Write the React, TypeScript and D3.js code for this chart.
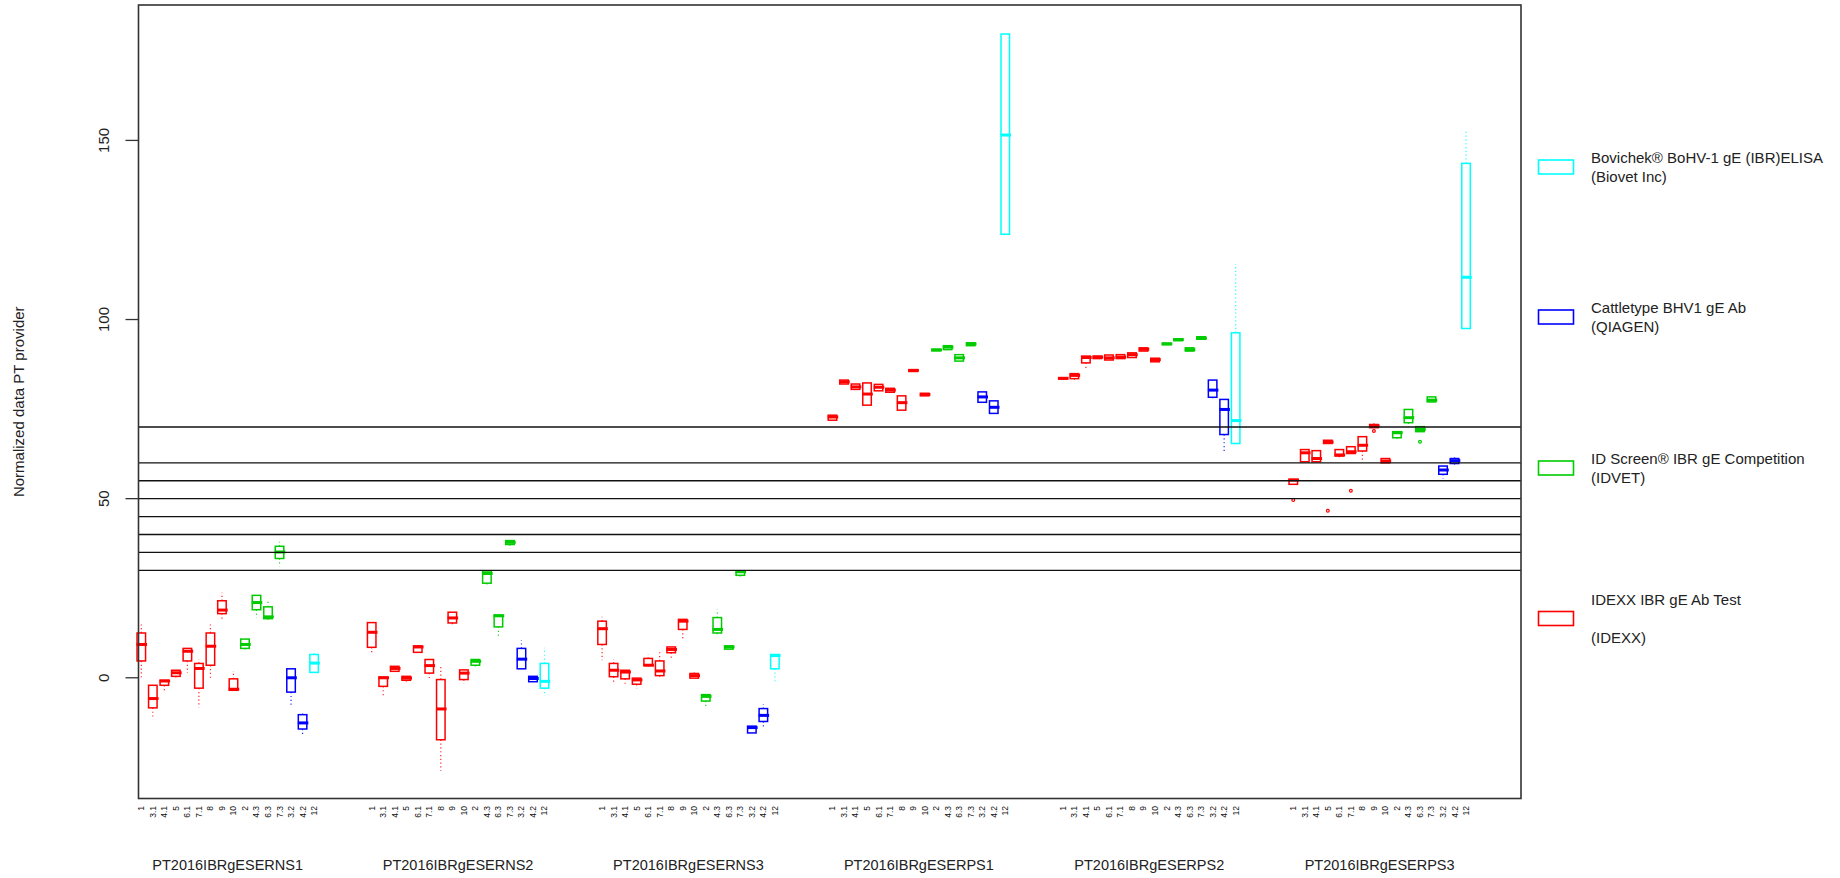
import React from "react";
import * as d3 from "d3";

// ---- data ----
const samples = [
  "PT2016IBRgESERNS1",
  "PT2016IBRgESERNS2",
  "PT2016IBRgESERNS3",
  "PT2016IBRgESERPS1",
  "PT2016IBRgESERPS2",
  "PT2016IBRgESERPS3",
];
const labs = ["1", "3.1", "4.1", "5", "6.1", "7.1", "8", "9", "10", "2", "4.3", "6.3", "7.3", "3.2", "4.2", "12"];
// kit index per lab: 0 Bovichek, 1 Cattletype, 2 ID Screen, 3 IDEXX
const labKit = [3, 3, 3, 3, 3, 3, 3, 3, 3, 2, 2, 2, 2, 1, 1, 0];
const kitColors = ["#00FFFF", "#0000FF", "#00CC00", "#FF0000"];
const legendLabels = [
  ["Bovichek® BoHV-1 gE (IBR)ELISA", "(Biovet Inc)"],
  ["Cattletype BHV1 gE Ab", "(QIAGEN)"],
  ["ID Screen® IBR gE Competition", "(IDVET)"],
  ["IDEXX IBR gE Ab Test", "", "(IDEXX)"],
];
const yTicks = [0, 50, 100, 150];
const refLines = [30, 35, 40, 45, 50, 55, 60, 70];

// [lower whisker, Q1, median, Q3, upper whisker] per lab
const statsNS1 = [
  [-0.5, 4.7, 9.3, 12.5, 14.9], [-10.8, -8.4, -5.8, -2.1, -2.1], [-3.5, -2.1, -0.9, -0.7, -0.7],
  [-0.7, 0.4, 1.4, 2.1, 2.1], [1.4, 4.7, 7.4, 8.2, 8.2], [-8.3, -2.9, 2.6, 4.0, 5.1],
  [-0.2, 3.5, 8.8, 12.5, 14.9], [16.3, 17.9, 18.9, 21.5, 23.7], [-3.5, -3.5, -3.2, -0.3, 1.9],
  [7.1, 8.2, 9.3, 10.8, 10.8], [16.8, 19.0, 21.0, 23.0, 23.0], [15.8, 16.5, 17.0, 19.8, 21.9],
  [31.1, 33.3, 35.1, 36.7, 38.0], [-8.2, -4.0, 0.0, 2.5, 2.5], [-16.1, -14.3, -12.6, -10.3, -9.3],
  [1.5, 1.5, 4.1, 6.5, 7.6],
];
const statsNS2 = [
  [6.8, 8.5, 12.7, 15.4, 15.4], [-4.9, -2.4, 0.0, 0.2, 0.2], [1.8, 1.8, 2.6, 3.2, 3.2],
  [-1.5, -0.7, -0.1, 0.4, 0.4], [7.1, 7.1, 8.6, 8.9, 8.9], [-0.5, 1.3, 3.4, 5.1, 5.1],
  [-26.0, -17.3, -8.7, -0.5, 3.8], [14.5, 15.3, 16.7, 18.3, 18.3], [-1.6, -0.5, 1.3, 2.2, 2.2],
  [3.0, 3.5, 4.6, 5.1, 5.1], [25.4, 26.4, 29.1, 29.8, 29.8], [11.1, 14.2, 17.3, 17.5, 17.5],
  [36.1, 37.2, 37.8, 38.3, 38.3], [2.5, 2.5, 5.2, 8.2, 10.5], [-1.1, -1.1, -0.2, 0.4, 0.4],
  [-5.1, -2.9, -1.0, 4.0, 8.4],
];
const statsNS3 = [
  [4.9, 9.3, 13.7, 15.8, 17.0], [-1.1, 0.3, 2.1, 4.0, 5.1], [-2.1, -0.3, 1.6, 2.1, 2.1],
  [-2.9, -1.8, -0.6, -0.1, -0.1], [2.8, 3.5, 3.5, 5.4, 6.5], [-0.5, 0.6, 1.9, 4.7, 7.3],
  [5.6, 7.0, 7.9, 8.6, 8.6], [11.0, 13.5, 15.8, 16.3, 16.3], [-0.1, -0.1, 0.6, 1.2, 1.5],
  [-8.0, -6.5, -5.2, -4.7, -4.7], [11.8, 12.5, 13.5, 16.8, 19.0], [8.0, 8.0, 8.6, 8.9, 8.9],
  [27.6, 28.6, 29.6, 29.8, 29.8], [-15.4, -15.4, -13.9, -13.5, -13.5], [-13.9, -12.2, -10.5, -8.6, -7.4],
  [-1.0, 2.5, 6.2, 6.5, 6.5],
];
const statsPS1 = [
  [71.9, 71.9, 72.8, 73.3, 73.3], [82.0, 82.0, 82.6, 83.1, 83.1], [80.5, 80.5, 81.2, 82.0, 82.0],
  [76.1, 76.1, 79.2, 82.3, 82.3], [80.1, 80.1, 81.1, 81.9, 81.9], [79.7, 79.7, 80.3, 80.8, 80.8],
  [74.7, 74.7, 76.8, 78.7, 78.7], [85.5, 85.5, 85.8, 86.0, 86.0], [78.7, 78.7, 79.1, 79.4, 79.4],
  [91.3, 91.3, 91.5, 91.7, 91.7], [91.6, 91.6, 92.3, 92.7, 92.7], [88.4, 88.4, 89.3, 90.2, 90.2],
  [92.7, 92.7, 93.2, 93.5, 93.5], [76.9, 76.9, 78.4, 79.8, 79.8], [73.8, 73.8, 75.5, 77.3, 77.3],
  [123.8, 123.8, 151.5, 179.7, 179.7],
];
const statsPS2 = [
  [83.4, 83.4, 83.6, 83.7, 83.7], [83.0, 83.5, 84.4, 84.9, 84.9], [86.5, 87.9, 89.4, 89.8, 89.8],
  [89.1, 89.1, 89.5, 89.8, 89.8], [88.7, 88.7, 89.3, 90.1, 90.1], [89.1, 89.1, 89.5, 90.2, 90.2],
  [89.4, 89.4, 90.2, 90.7, 90.7], [91.2, 91.2, 91.7, 92.1, 92.1], [88.2, 88.2, 88.8, 89.2, 89.2],
  [93.0, 93.0, 93.2, 93.4, 93.4], [94.1, 94.1, 94.4, 94.6, 94.6], [91.2, 91.2, 91.6, 92.1, 92.1],
  [94.5, 94.5, 94.8, 95.2, 95.2], [78.0, 78.3, 80.3, 83.1, 83.1], [63.1, 67.9, 74.9, 77.7, 77.7],
  [65.4, 65.4, 71.8, 96.3, 115.5],
];
const statsPS3 = [
  [54.0, 54.0, 55.2, 55.4, 55.4], [60.3, 60.3, 62.8, 63.7, 63.7], [60.3, 60.3, 61.2, 63.4, 63.4],
  [65.4, 65.4, 65.8, 66.3, 66.3], [61.5, 61.9, 62.2, 63.7, 63.7], [62.6, 62.6, 63.1, 64.5, 64.5],
  [60.6, 63.3, 64.9, 67.3, 67.3], [69.8, 69.8, 70.3, 70.7, 71.1], [60.0, 60.0, 60.5, 61.2, 61.2],
  [66.5, 67.0, 68.4, 68.7, 68.7], [70.0, 71.2, 72.6, 74.9, 74.9], [68.7, 68.7, 69.3, 70.1, 70.1],
  [77.0, 77.0, 77.5, 78.4, 78.4], [55.6, 56.8, 58.0, 59.1, 59.1], [59.5, 59.8, 60.6, 61.2, 61.9],
  [97.5, 97.5, 111.8, 143.6, 152.5],
];
const sampleStats = [statsNS1, statsNS2, statsNS3, statsPS1, statsPS2, statsPS3];

// outliers: [sample index, lab index, value]
const outliers = [
  [5, 0, 49.6],
  [5, 3, 46.6],
  [5, 5, 52.2],
  [5, 7, 68.9],
  [5, 11, 65.9],
];

// ---- layout ----
const W = 1840;
const H = 878;
const plotL = 138.5;
const plotR = 1521;
const plotT = 5;
const plotB = 798.5;
const slotsPerSample = 20;
const FONT = "'Liberation Sans', Arial, sans-serif";

export default function App() {
  const x = d3.scaleLinear().domain([-0.243, 119.77]).range([plotL, plotR]);
  const y = d3.scaleLinear().domain([-33.7, 187.8]).range([plotB, plotT]);
  const boxW = (x(1) - x(0)) * 0.74;

  const boxes: any[] = [];
  sampleStats.forEach((stats, g) => {
    stats.forEach((s, i) => {
      const cx = x(g * slotsPerSample + i);
      const col = kitColors[labKit[i]];
      const [lo, q1, med, q3, hi] = s;
      boxes.push(
        <g key={`b${g}-${i}`}>
          {hi > q3 && (
            <line x1={cx} x2={cx} y1={y(q3)} y2={y(hi)} stroke={col} strokeWidth={1.2} strokeDasharray="1.2 2.6" opacity={0.85} />
          )}
          {lo < q1 && (
            <line x1={cx} x2={cx} y1={y(q1)} y2={y(lo)} stroke={col} strokeWidth={1.2} strokeDasharray="1.2 2.6" opacity={0.85} />
          )}
          <rect
            x={cx - boxW / 2}
            y={y(q3)}
            width={boxW}
            height={Math.max(y(q1) - y(q3), 0.5)}
            fill="none"
            stroke={col}
            strokeWidth={1.5}
          />
          <line x1={cx - boxW / 2 - 0.5} x2={cx + boxW / 2 + 1.5} y1={y(med)} y2={y(med)} stroke={col} strokeWidth={3} />
        </g>
      );
    });
  });

  const outMarks = outliers.map(([g, i, v], k) => (
    <circle key={`o${k}`} cx={x(g * slotsPerSample + i)} cy={y(v)} r={1.4} fill="none" stroke={kitColors[labKit[i]]} strokeWidth={1.2} />
  ));

  const legendCenters = [167, 317, 468, 618.5];

  return (
    <svg width={W} height={H} style={{ position: "absolute", left: 0, top: 0, background: "#fff" }} fontFamily={FONT}>
      <rect x={0} y={0} width={W} height={H} fill="#fff" />
      {boxes}
      {outMarks}
      {refLines.map((v) => (
        <line key={`r${v}`} x1={plotL} x2={plotR} y1={y(v)} y2={y(v)} stroke="#111" strokeWidth={1.3} />
      ))}
      <rect x={plotL} y={plotT} width={plotR - plotL} height={plotB - plotT} fill="none" stroke="#333" strokeWidth={1.6} />
      {/* y axis */}
      {yTicks.map((t) => (
        <g key={`yt${t}`}>
          <line x1={plotL - 13} x2={plotL} y1={y(t)} y2={y(t)} stroke="#333" strokeWidth={1.3} />
          <text transform={`translate(${plotL - 30},${y(t)}) rotate(-90)`} textAnchor="middle" fontSize={15} fill="#222">
            {t}
          </text>
        </g>
      ))}
      <text transform={`translate(24,${(plotT + plotB) / 2}) rotate(-90)`} textAnchor="middle" fontSize={15} fill="#222">
        Normalized data PT provider
      </text>
      {/* x tick labels */}
      {samples.map((smp, g) => (
        <g key={`xs${g}`}>
          {labs.map((lab, i) => (
            <text
              key={`xl${g}-${i}`}
              transform={`translate(${x(g * slotsPerSample + i)},806) rotate(-90)`}
              textAnchor="end"
              dy="0.35em"
              fontSize={8.5}
              fill="#111"
            >
              {lab}
            </text>
          ))}
          <text x={x(g * slotsPerSample + 7.5)} y={870} textAnchor="middle" fontSize={14.5} fill="#222">
            {smp}
          </text>
        </g>
      ))}
      {/* legend */}
      {legendLabels.map((lines, k) => {
        const c = legendCenters[k];
        const n = lines.length;
        return (
          <g key={`lg${k}`}>
            <rect x={1538.5} y={c - 7} width={35} height={14} fill="none" stroke={kitColors[k]} strokeWidth={1.6} />
            {lines.map((ln, j) => (
              <text key={j} x={1591} y={c + (j - (n - 1) / 2) * 19 + 5.5} fontSize={15} fill="#222">
                {ln}
              </text>
            ))}
          </g>
        );
      })}
    </svg>
  );
}
